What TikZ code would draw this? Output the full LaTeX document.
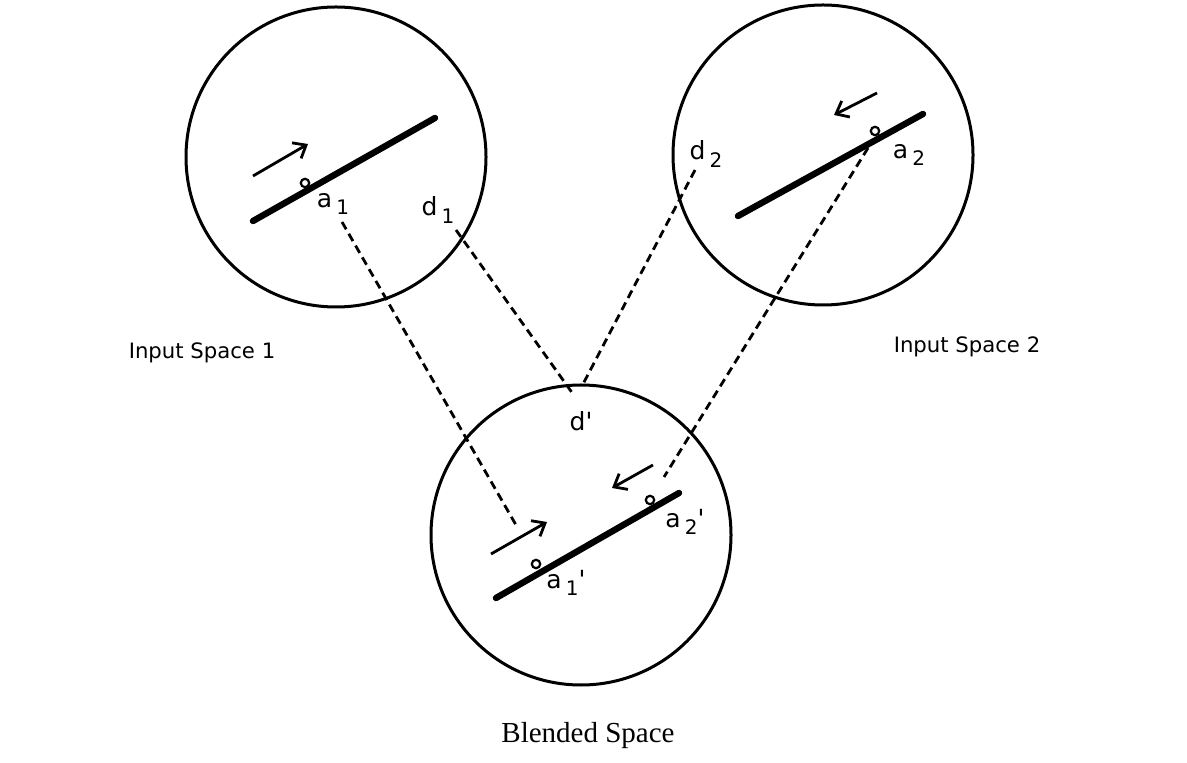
\documentclass[tikz,border=0pt]{standalone}
\usepackage{fontspec}
\newfontfamily\labelfont{DejaVu Sans}
\newfontfamily\captfont{Liberation Serif}
\usetikzlibrary{arrows.meta}

% subscript set apart and lowered, as in the scan
\newcommand{\lsub}[2]{#1\,\raisebox{-0.55ex}{\fontsize{10}{11}\selectfont #2}}

\begin{document}
\begin{tikzpicture}[x=0.5pt, y=-0.5pt,
    space/.style={draw, circle, line width=1.5pt, minimum size=150pt, inner sep=0pt},
    bar/.style={line width=3.2pt, line cap=round},
    move/.style={-{Straight Barb[length=5.5pt, width=9pt]}, line width=1.4pt},
    map/.style={line width=1.4pt, dash pattern=on 4.2pt off 2.6pt},
    ring/.style={draw, circle, fill=white, line width=1.1pt, minimum size=4.2pt, inner sep=0pt},
    lbl/.style={font=\labelfont\fontsize{12.5}{14}\selectfont, inner sep=0pt},
    capt/.style={font=\labelfont\fontsize{10.6}{12}\selectfont, inner sep=0pt},
]
\useasboundingbox (0,0) rectangle (1187,763);

%% --- the three spaces ---
\node[space] (in1) at (336,157) {};
\node[space] (in2) at (823,155) {};
\node[space] (bl)  at (581,535) {};

%% --- input space 1 ---
\draw[bar] (253,221) -- (435,118);
\draw[move] (253,176) -- (308,144);
\node[ring] (a1) at (305,183) {};
\node[lbl] (a1lab) at (333,204) {\lsub{a}{1}};
\node[lbl] (d1lab) at (438,210) {\lsub{d}{1}};

%% --- input space 2 ---
\draw[bar] (738,216) -- (923,114);
\draw[move] (877,93) -- (834,115);
\node[ring] (a2) at (875,131) {};
\node[lbl] (a2lab) at (909,155) {\lsub{a}{2}};
\node[lbl] (d2lab) at (706,154) {\lsub{d}{2}};

%% --- blended space ---
\draw[bar] (496,598) -- (679,493);
\draw[move] (491,554) -- (547,522);
\draw[move] (653,465) -- (612,488);
\node[ring] (a1b) at (536,564) {};
\node[ring] (a2b) at (650,500) {};
\node[lbl] (a1blab) at (566,583) {\lsub{a}{1}\textquotesingle};
\node[lbl] (a2blab) at (685,522) {\lsub{a}{2}\textquotesingle};
\node[lbl] (dblab)  at (581,421) {d\textquotesingle};

%% --- mappings ---
\coordinate (a1src) at (342,222);
\coordinate (a1dst) at (516,525);
\coordinate (d1src) at (456,230);
\coordinate (d1dst) at (573,394);
\coordinate (d2src) at (695,170);
\coordinate (d2dst) at (582,386);
\coordinate (a2src) at (868,148);
\coordinate (a2dst) at (664,477);
\draw[map] (a1src) -- (a1dst);
\draw[map] (d1src) -- (d1dst);
\draw[map] (d2src) -- (d2dst);
\draw[map] (a2src) -- (a2dst);

%% --- captions ---
\node[capt] (cap1) at (202,353) {Input Space 1};
\node[capt] (cap2) at (967,347) {Input Space 2};
\node[font=\captfont\fontsize{14.5}{16}\selectfont, inner sep=0pt] (cap3) at (588,736) {Blended Space};

\end{tikzpicture}
\end{document}
